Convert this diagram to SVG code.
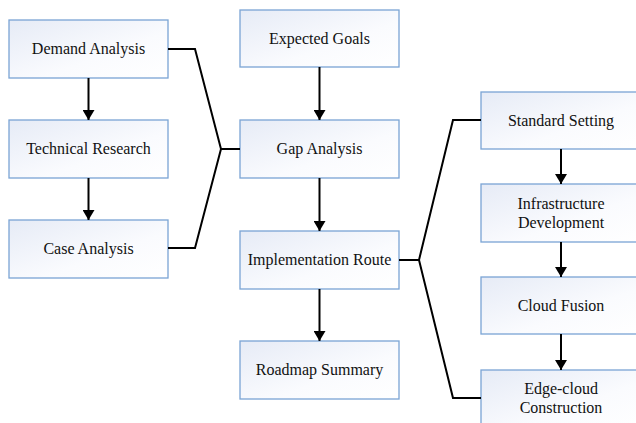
<svg xmlns="http://www.w3.org/2000/svg" width="636" height="423" viewBox="0 0 636 423">
<defs>
<linearGradient id="g" x1="0" y1="0" x2="1" y2="1">
<stop offset="0" stop-color="#e6ebf6"/>
<stop offset="0.6" stop-color="#fafbfe"/>
<stop offset="1" stop-color="#ffffff"/>
</linearGradient>
<marker id="ah" markerWidth="10" markerHeight="12" refX="10" refY="6" orient="auto" markerUnits="userSpaceOnUse" viewBox="0 0 10 12">
<path d="M0,0 L10,6 L0,12 Z" fill="#000"/>
</marker>
<style>
.box{fill:url(#g);stroke:#7aa4d4;stroke-width:1.3}
.c{fill:none;stroke:#000;stroke-width:2}
.a{fill:none;stroke:#000;stroke-width:2;marker-end:url(#ah)}
</style>
</defs>
<rect width="636" height="423" fill="#fff"/>
<g font-family="'Liberation Serif', 'Times New Roman', 'DejaVu Serif', serif" font-size="16" text-anchor="middle" fill="#111">
<g id="demand"><rect class="box" x="9" y="20" width="159" height="58"/><text x="88.5" y="54">Demand Analysis</text></g>
<g id="technical"><rect class="box" x="9" y="120" width="159" height="58"/><text x="88.5" y="154">Technical Research</text></g>
<g id="case"><rect class="box" x="9" y="220" width="159" height="58"/><text x="88.5" y="254">Case Analysis</text></g>
<g id="goals"><rect class="box" x="240" y="10" width="159" height="57"/><text x="319.5" y="44">Expected Goals</text></g>
<g id="gap"><rect class="box" x="240" y="120" width="159" height="58"/><text x="319.5" y="154">Gap Analysis</text></g>
<g id="route"><rect class="box" x="240" y="231" width="159" height="58"/><text x="319.5" y="265">Implementation Route</text></g>
<g id="roadmap"><rect class="box" x="240" y="341" width="159" height="58"/><text x="319.5" y="375">Roadmap Summary</text></g>
<g id="standard"><rect class="box" x="481" y="92" width="160" height="57"/><text x="561" y="126">Standard Setting</text></g>
<g id="infra"><rect class="box" x="481" y="184" width="160" height="58"/><text x="561" y="209">Infrastructure</text><text x="561" y="228">Development</text></g>
<g id="cloud"><rect class="box" x="481" y="277" width="160" height="57"/><text x="561" y="311">Cloud Fusion</text></g>
<g id="edge"><rect class="box" x="481" y="370" width="160" height="60"/><text x="561" y="394">Edge-cloud</text><text x="561" y="413">Construction</text></g>
</g>
<g id="connectors">
<line class="a" x1="88.5" y1="78" x2="88.5" y2="120"/>
<line class="a" x1="88.5" y1="178" x2="88.5" y2="220"/>
<line class="a" x1="319.5" y1="67" x2="319.5" y2="120"/>
<line class="a" x1="319.5" y1="178" x2="319.5" y2="231"/>
<line class="a" x1="319.5" y1="289" x2="319.5" y2="341"/>
<line class="a" x1="561" y1="149" x2="561" y2="184"/>
<line class="a" x1="561" y1="242" x2="561" y2="277"/>
<line class="a" x1="561" y1="334" x2="561" y2="370"/>
<polyline class="c" points="168,49 195,49 221,149 195,248 168,248"/>
<line class="c" x1="221" y1="149" x2="240" y2="149" stroke-width="2.5"/>
<polyline class="c" points="481,120 453,120 419,260 453,398 481,398"/>
<line class="c" x1="399" y1="260" x2="419" y2="260" stroke-width="2.5"/>
</g>
</svg>
